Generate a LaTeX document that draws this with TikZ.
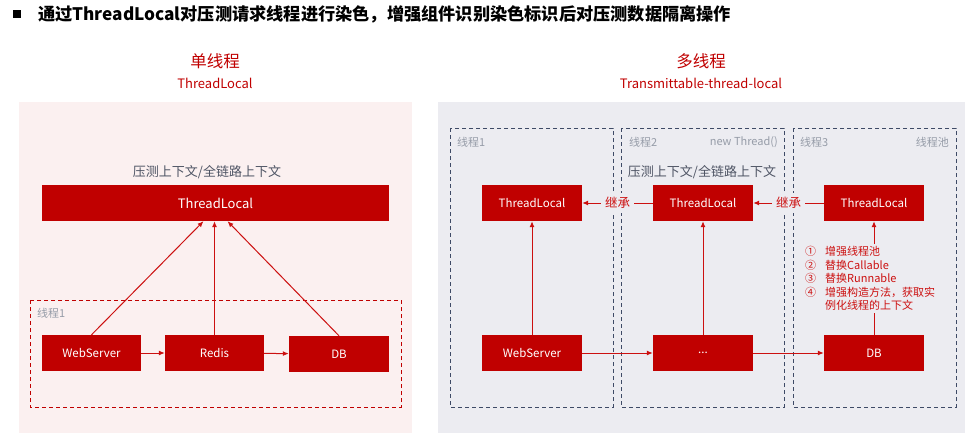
\documentclass[tikz,border=0pt]{standalone}
\usepackage{fontspec}
\setmainfont{Noto Sans CJK SC}
\usetikzlibrary{arrows.meta,calc}

\definecolor{boxred}{RGB}{192,0,0}
\definecolor{arrowred}{RGB}{204,16,16}
\definecolor{pinkbg}{RGB}{251,240,240}
\definecolor{graybg}{RGB}{236,236,241}
\definecolor{framegray}{RGB}{62,74,102}
\definecolor{labelgray}{RGB}{150,156,168}
\definecolor{ctxgray}{RGB}{78,84,100}

\newcommand{\threadframe}[2]{\draw[grayframe] (#1,128) rectangle (#2,407);}

\begin{document}
\begin{tikzpicture}
    [x=1pt,y=-1pt,
    box/.style={rectangle,fill=boxred,text=white,minimum width=100pt,minimum height=36pt,inner sep=0pt,font=\fontsize{11.5}{12}\selectfont},
    arrow/.style={-{Latex[length=6pt,width=5pt]},draw=arrowred,line width=1pt},
    redframe/.style={draw=boxred,line width=1pt,dash pattern=on 4pt off 3pt},
    grayframe/.style={draw=framegray,line width=1pt,dash pattern=on 4pt off 3pt},
    threadlabel/.style={text=labelgray,inner sep=0pt,font=\fontsize{11}{12}\selectfont},
    ctx/.style={text=ctxgray,font=\fontsize{13}{14}\selectfont},
    headline/.style={text=boxred,font=\fontsize{16.5}{18}\selectfont},
    subline/.style={text=boxred,font=\fontsize{13}{14}\selectfont},
    inherit/.style={fill=graybg,text=arrowred,inner sep=4pt,font=\fontsize{12.5}{13}\selectfont},
    ]
    \useasboundingbox (0,0) rectangle (974,439);
    % title
    \node[fill=black,minimum size=8pt,inner sep=0pt] (bullet) at (17,14) {};
    \node[anchor=west,inner sep=0pt,font=\fontsize{17.2}{19}\selectfont\bfseries] (title) at (38,14) {通过ThreadLocal对压测请求线程进行染色，增强组件识别染色标识后对压测数据隔离操作};
    % panels
    \fill[pinkbg] (19,102) rectangle (412,433);
    \fill[graybg] (438,102) rectangle (965,433);
    \node[headline] (lhead) at (215,61) {单线程};
    \node[subline] (lsub) at (215,83) {ThreadLocal};
    \node[headline] (rhead) at (701,61) {多线程};
    \node[subline] (rsub) at (701,83) {Transmittable-thread-local};

    % single thread
    \node[ctx] (lctx) at (207,172) {压测上下文/全链路上下文};
    \node[box,minimum width=347pt,font=\fontsize{13}{14}\selectfont] (tlbig) at (215.5,203) {ThreadLocal};
    \draw[redframe] (30,300) rectangle (401,407);
    \node[threadlabel,anchor=west] (lthread) at (37,313) {线程1};
    \node[box,minimum width=99pt] (ws) at (91.5,353) {WebServer};
    \node[box,minimum width=99pt] (redis) at (214.5,353) {Redis};
    \node[box] (db) at (339,354) {DB};
    \draw[arrow] (ws) -- (redis);
    \draw[arrow] (redis) -- (db);
    \draw[arrow] (ws.north) -- ($(tlbig.south)+(-12,0)$);
    \draw[arrow] (redis.north) -- (redis.north |- tlbig.south);
    \draw[arrow] (db.north) -- ($(tlbig.south)+(12,0)$);

    % multi thread
    \threadframe{450}{613}
    \threadframe{621}{784}
    \threadframe{793}{956}
    \node[threadlabel,anchor=west] (t1) at (457,142) {线程1};
    \node[threadlabel,anchor=west] (t2) at (629,142) {线程2};
    \node[threadlabel,anchor=east] (t2new) at (778,142) {new Thread()};
    \node[threadlabel,anchor=west] (t3) at (800,142) {线程3};
    \node[threadlabel,anchor=east] (t3pool) at (949,142) {线程池};
    \node[ctx] (rctx) at (702,172) {压测上下文/全链路上下文};
    \node[box] (tl1) at (532,203) {ThreadLocal};
    \node[box] (tl2) at (703,203) {ThreadLocal};
    \node[box] (tl3) at (874,203) {ThreadLocal};
    \node[box] (ws2) at (532,353) {WebServer};
    \node[box] (dots) at (703,353) {...};
    \node[box] (db2) at (874,353) {DB};
    \draw[arrow] (tl2) -- node[inherit] (inh1) {继承} (tl1);
    \draw[arrow] (tl3) -- node[inherit] (inh2) {继承} (tl2);
    \draw[arrow] (ws2) -- (dots);
    \draw[arrow] (dots) -- (db2);
    \draw[arrow] (ws2) -- (tl1);
    \draw[arrow] (dots) -- (tl2);
    \node[anchor=north west,align=left,text=arrowred,inner sep=2pt,font=\fontsize{11}{13.5}\selectfont] (anno) at (803,244)
        {\makebox[20pt][l]{①}增强线程池\\
         \makebox[20pt][l]{②}替换Callable\\
         \makebox[20pt][l]{③}替换Runnable\\
         \makebox[20pt][l]{④}增强构造方法，获取实\\
         \hspace*{20pt}例化线程的上下文};
    \draw[arrow] (anno.north -| tl3.south) -- (tl3.south);
    \draw[arrowred,line width=1pt] (db2.north) -- (db2.north |- anno.south);
\end{tikzpicture}
\end{document}
